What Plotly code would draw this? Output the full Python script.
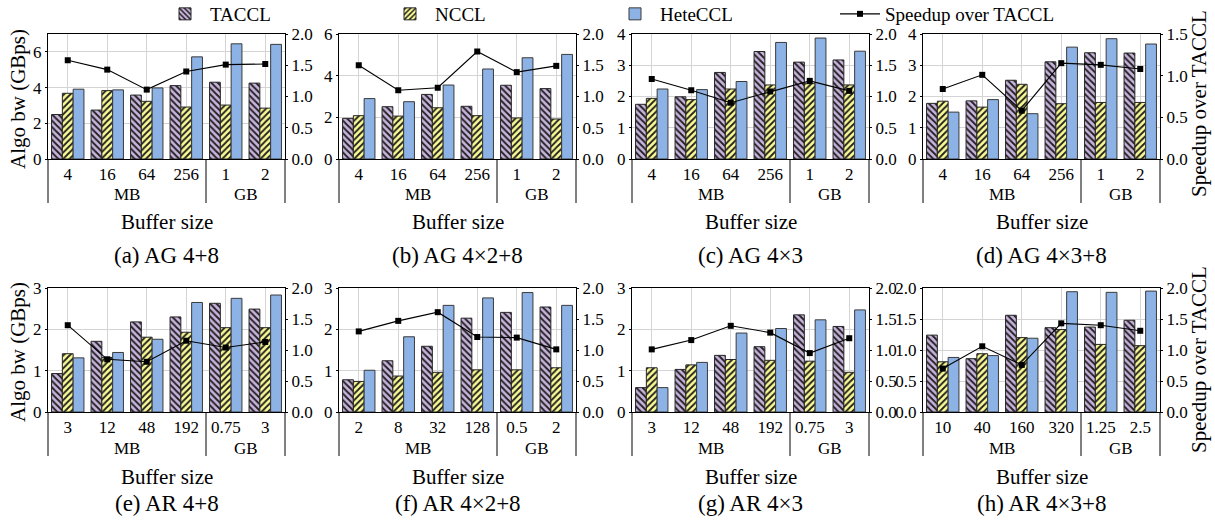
import plotly.graph_objects as go

W, H = 1215, 524

# ---------------- data ----------------
titles = ["(a) AG 4+8", "(b) AG 4×2+8", "(c) AG 4×3", "(d) AG 4×3+8",
          "(e) AR 4+8", "(f) AR 4×2+8", "(g) AR 4×3", "(h) AR 4×3+8"]

ticks_ag = ["4", "16", "64", "256", "1", "2"]
ticks_e = ["3", "12", "48", "192", "0.75", "3"]
ticks_f = ["2", "8", "32", "128", "0.5", "2"]
ticks_g = ["3", "12", "48", "192", "0.75", "3"]
ticks_h = ["10", "40", "160", "320", "1.25", "2.5"]
tick_labels = [ticks_ag, ticks_ag, ticks_ag, ticks_ag, ticks_e, ticks_f, ticks_g, ticks_h]

taccl_a = [2.49, 2.74, 3.58, 4.11, 4.30, 4.25]
nccl_a = [3.68, 3.83, 3.23, 2.91, 3.02, 2.85]
hete_a = [3.91, 3.87, 3.98, 5.72, 6.45, 6.42]
speed_a = [1.58, 1.43, 1.11, 1.40, 1.51, 1.52]

taccl_b = [1.95, 2.51, 3.10, 2.53, 3.54, 3.38]
nccl_b = [2.08, 2.06, 2.46, 2.08, 1.97, 1.92]
hete_b = [2.90, 2.75, 3.55, 4.32, 4.86, 5.02]
speed_b = [1.50, 1.10, 1.14, 1.72, 1.39, 1.49]

taccl_c = [1.75, 1.99, 2.77, 3.44, 3.10, 3.17]
nccl_c = [1.94, 1.90, 2.24, 2.37, 2.41, 2.37]
hete_c = [2.24, 2.22, 2.48, 3.73, 3.87, 3.45]
speed_c = [1.28, 1.10, 0.90, 1.08, 1.25, 1.09]

taccl_d = [1.78, 1.86, 2.52, 3.11, 3.40, 3.39]
nccl_d = [1.85, 1.66, 2.39, 1.77, 1.81, 1.81]
hete_d = [1.50, 1.90, 1.45, 3.58, 3.85, 3.68]
speed_d = [0.84, 1.01, 0.58, 1.15, 1.13, 1.08]

taccl_e = [0.93, 1.71, 2.18, 2.30, 2.63, 2.49]
nccl_e = [1.41, 1.32, 1.81, 1.93, 2.04, 2.04]
hete_e = [1.31, 1.44, 1.76, 2.65, 2.75, 2.83]
speed_e = [1.40, 0.85, 0.81, 1.15, 1.04, 1.13]

taccl_f = [0.78, 1.24, 1.59, 2.27, 2.41, 2.54]
nccl_f = [0.74, 0.87, 0.96, 1.02, 1.02, 1.07]
hete_f = [1.01, 1.82, 2.58, 2.76, 2.89, 2.58]
speed_f = [1.30, 1.47, 1.61, 1.21, 1.20, 1.01]

taccl_g = [0.59, 1.03, 1.37, 1.58, 2.35, 2.07]
nccl_g = [1.07, 1.14, 1.27, 1.25, 1.23, 0.96]
hete_g = [0.59, 1.20, 1.91, 2.02, 2.23, 2.47]
speed_g = [1.01, 1.16, 1.39, 1.28, 0.95, 1.19]

taccl_h = [1.24, 0.86, 1.56, 1.36, 1.37, 1.48]
nccl_h = [0.81, 0.94, 1.20, 1.33, 1.09, 1.07]
hete_h = [0.88, 0.91, 1.19, 1.94, 1.93, 1.95]
speed_h = [0.70, 1.06, 0.76, 1.43, 1.40, 1.31]

taccl = [taccl_a, taccl_b, taccl_c, taccl_d, taccl_e, taccl_f, taccl_g, taccl_h]
nccl = [nccl_a, nccl_b, nccl_c, nccl_d, nccl_e, nccl_f, nccl_g, nccl_h]
hete = [hete_a, hete_b, hete_c, hete_d, hete_e, hete_f, hete_g, hete_h]
speed = [speed_a, speed_b, speed_c, speed_d, speed_e, speed_f, speed_g, speed_h]

left_max = [7, 6, 4, 4, 3, 3, 3, 2]
left_dtick = [2, 2, 1, 1, 1, 1, 1, 0.5]
right_max = [2, 2, 2, 1.5, 2, 2, 2, 2]

unit_groups = ["MB", "GB"]

# ---------------- style ----------------
FONT = "Liberation Serif, Times New Roman, serif"
C_TACCL = "#C8B3DC"
C_NCCL = "#FAFA96"
C_HETE = "#8DB3E6"
GRID = "#d4d4d4"
OUTLINE = "#262626"

fig = go.Figure()

xdom_px = [(48, 285), (339, 576), (632, 869), (923, 1160)]
ydom_px = [(34, 159), (288, 412)]

cats = list(range(6))


def ann(**kw):
    base = dict(showarrow=False, xanchor="center", yanchor="middle")
    base.update(kw)
    fig.add_annotation(**base)


for i in range(8):
    r, c = divmod(i, 4)
    xa = "x" if i == 0 else f"x{i+1}"
    ya = "y" if i == 0 else f"y{i+1}"
    ya2 = f"y{i+9}"
    show = i == 0
    fig.add_trace(go.Bar(
        x=cats, y=taccl[i], name="TACCL", xaxis=xa, yaxis=ya, showlegend=show,
        legendgroup="t", offsetgroup="t",
        marker=dict(color=C_TACCL, line=dict(color=OUTLINE, width=1),
                    pattern=dict(shape="\\", fgcolor="#1e1e1e", bgcolor=C_TACCL,
                                 size=4.5, solidity=0.4, fillmode="replace"))))
    fig.add_trace(go.Bar(
        x=cats, y=nccl[i], name="NCCL", xaxis=xa, yaxis=ya, showlegend=show,
        legendgroup="n", offsetgroup="n",
        marker=dict(color=C_NCCL, line=dict(color=OUTLINE, width=1),
                    pattern=dict(shape="/", fgcolor="#1e1e1e", bgcolor=C_NCCL,
                                 size=4.5, solidity=0.4, fillmode="replace"))))
    fig.add_trace(go.Bar(
        x=cats, y=hete[i], name="HeteCCL", xaxis=xa, yaxis=ya, showlegend=show,
        legendgroup="h", offsetgroup="h",
        marker=dict(color=C_HETE, line=dict(color="#3a3a3a", width=1))))
    fig.add_trace(go.Scatter(
        x=cats, y=speed[i], name="Speedup over TACCL", xaxis=xa, yaxis=ya2,
        showlegend=show, legendgroup="s", mode="lines+markers",
        line=dict(color="black", width=1.1),
        marker=dict(symbol="square", size=6, color="black")))

    x0, x1 = xdom_px[c]
    y0, y1 = ydom_px[r]
    xdom = [x0 / W, x1 / W]
    ydom = [1 - y1 / H, 1 - y0 / H]
    xkey = "xaxis" if i == 0 else f"xaxis{i+1}"
    ykey = "yaxis" if i == 0 else f"yaxis{i+1}"
    y2key = f"yaxis{i+9}"
    fig.layout[xkey] = dict(
        domain=xdom, anchor=ya, range=[-0.5, 5.5], tickmode="array",
        tickvals=cats, ticktext=tick_labels[i], showgrid=True, gridcolor=GRID,
        gridwidth=1, showline=True, linecolor="black", linewidth=1, mirror=True,
        ticks="", tickfont=dict(family=FONT, size=17, color="black"),
        zeroline=False, fixedrange=True, automargin=False)
    lfmt = ".1f" if left_dtick[i] < 1 else "d"
    fig.layout[ykey] = dict(
        domain=ydom, anchor=xa, range=[0, left_max[i]], dtick=left_dtick[i],
        tick0=0, tickformat=lfmt, showgrid=True, gridcolor=GRID, gridwidth=1,
        showline=True, linecolor="black", linewidth=1, ticks="outside",
        ticklen=2, tickcolor="black", automargin=False,
        tickfont=dict(family=FONT, size=17, color="black"), zeroline=False)
    fig.layout[y2key] = dict(
        overlaying=ya, side="right", anchor=xa, range=[0, right_max[i]],
        dtick=0.5, tick0=0, tickformat=".1f", showgrid=False, showline=True,
        linecolor="black", linewidth=1, ticks="outside", ticklen=2,
        tickcolor="black", tickfont=dict(family=FONT, size=17, color="black"),
        zeroline=False, automargin=False)

    # group separators below the category axis
    ext = -(44 / (y1 - y0))
    for xv in (0, 1):
        fig.add_shape(type="line", xref=f"{xa} domain", yref=f"{ya} domain",
                      x0=xv, x1=xv, y0=0, y1=ext,
                      line=dict(color="black", width=1))
    fig.add_shape(type="line", xref=xa, yref=f"{ya} domain",
                  x0=3.5, x1=3.5, y0=0, y1=ext,
                  line=dict(color="black", width=1))
    unit_y = -(36 / (y1 - y0))
    ann(x=1.5, y=unit_y, xref=xa, yref=f"{ya} domain", text=unit_groups[0],
        font=dict(family=FONT, size=17, color="black"))
    ann(x=4.5, y=unit_y, xref=xa, yref=f"{ya} domain", text=unit_groups[1],
        font=dict(family=FONT, size=17, color="black"))
    # "Buffer size" and panel caption
    bs_y = 222 if r == 0 else 477
    cap_y = 256 if r == 0 else 503
    cx = (x0 + x1) / 2 / W
    ann(x=cx, y=1 - bs_y / H, xref="paper", yref="paper", text="Buffer size",
        font=dict(family=FONT, size=21, color="black"))
    ann(x=cx, y=1 - cap_y / H, xref="paper", yref="paper", text=titles[i],
        font=dict(family=FONT, size=23, color="black"))

# axis titles
for yc in [99, 352]:
    ann(x=18 / W, y=1 - yc / H, xref="paper", yref="paper",
        text="Algo bw (GBps)", textangle=-90,
        font=dict(family=FONT, size=21, color="black"))
for yc in [104, 360]:
    ann(x=1199 / W, y=1 - yc / H, xref="paper", yref="paper",
        text="Speedup over TACCL", textangle=-90,
        font=dict(family=FONT, size=21, color="black"))

fig.update_layout(
    width=W, height=H, margin=dict(l=0, r=0, t=0, b=0, pad=0, autoexpand=False),
    paper_bgcolor="white", plot_bgcolor="white",
    barmode="group", bargap=0.18, bargroupgap=0.0,
    font=dict(family=FONT, color="black"),
    legend=dict(orientation="h", x=160 / W, xanchor="left", y=1 - 14 / H,
                yanchor="middle", entrywidth=170, entrywidthmode="pixels",
                font=dict(family=FONT, size=19, color="black"),
                bgcolor="rgba(0,0,0,0)", itemwidth=40, traceorder="normal"),
)

fig.write_html("out.html")
